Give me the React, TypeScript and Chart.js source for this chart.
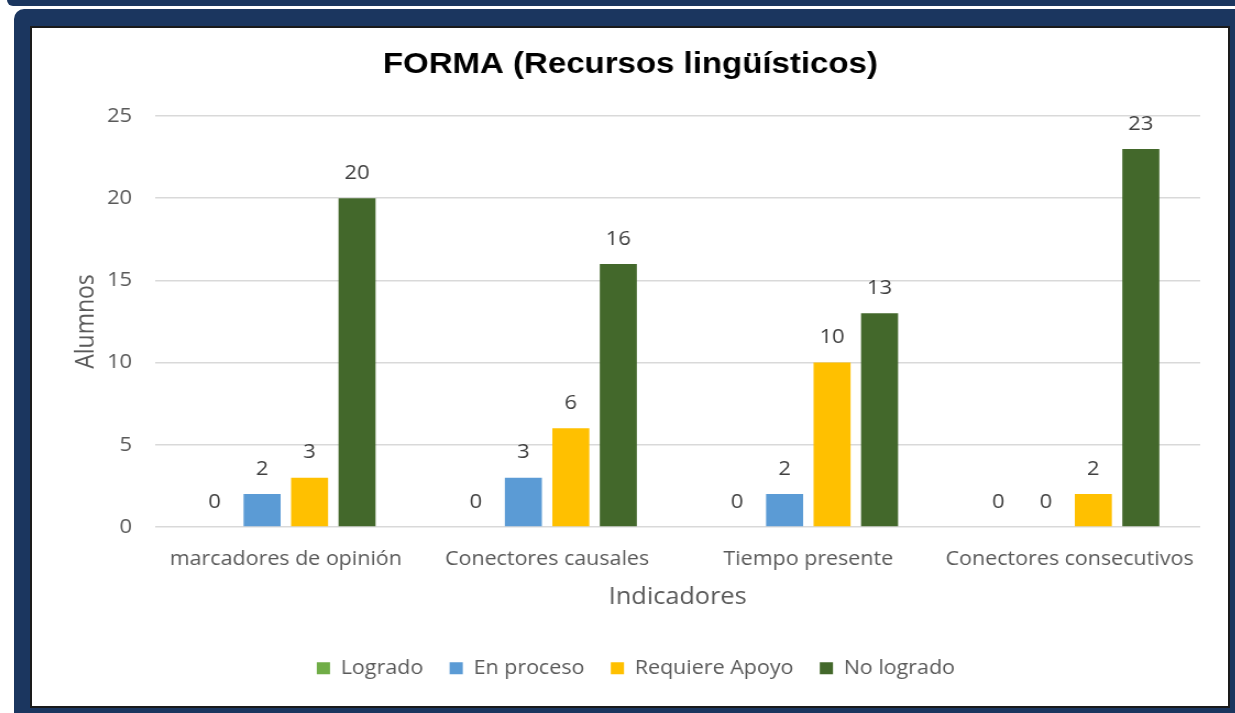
import React, { useEffect, useRef } from 'react';
import { Chart, registerables } from 'chart.js';

Chart.register(...registerables);

const categories = ['marcadores de opinión', 'Conectores causales', 'Tiempo presente', 'Conectores consecutivos'];
const logrado = [0, 0, 0, 0];
const enProceso = [2, 3, 2, 0];
const requiereApoyo = [3, 6, 10, 2];
const noLogrado = [20, 16, 13, 23];
const seriesNames = ['Logrado', 'En proceso', 'Requiere Apoyo', 'No logrado'];
const seriesColors = ['#70AD47', '#5B9BD5', '#FFC000', '#43682B'];
const yMin = 0;
const yMax = 25;
const yStep = 5;

const TITLE = 'FORMA (Recursos lingüísticos)';
const X_TITLE = 'Indicadores';
const Y_TITLE = 'Alumnos';

const NAVY = '#1B365F';
const STRETCH = 1.1;
const CANVAS_W = 1087;
const CANVAS_H = 678;

const dataLabels = {
  id: 'dataLabels',
  afterDatasetsDraw(chart: any) {
    const ctx = chart.ctx;
    ctx.save();
    ctx.font = '20px "Open Sans"';
    ctx.fillStyle = '#404040';
    ctx.textAlign = 'center';
    ctx.textBaseline = 'middle';
    chart.data.datasets.forEach((ds: any, i: number) => {
      const meta = chart.getDatasetMeta(i);
      meta.data.forEach((bar: any, j: number) => {
        ctx.fillText(String(ds.data[j]), bar.x, bar.y - 25);
      });
    });
    ctx.restore();
  },
};

const shiftBoxes = {
  id: 'shiftBoxes',
  afterLayout(chart: any) {
    if (chart.titleBlock) {
      chart.titleBlock.left += 13;
      chart.titleBlock.right += 13;
    }
    if (chart.legend) {
      chart.legend.left += 18;
      chart.legend.right += 18;
    }
  },
};

export default function App() {
  const canvasRef = useRef<HTMLCanvasElement | null>(null);

  useEffect(() => {
    if (!canvasRef.current) return;
    const allSeries = [logrado, enProceso, requiereApoyo, noLogrado];
    const tickFont = { family: '"Open Sans"', size: 20 };
    const chart = new Chart(canvasRef.current, {
      type: 'bar',
      data: {
        labels: categories,
        datasets: allSeries.map((d, i) => ({
          label: seriesNames[i],
          data: d,
          backgroundColor: seriesColors[i],
          borderWidth: 0,
          categoryPercentage: 0.727,
          barPercentage: 0.78,
        })),
      },
      options: {
        responsive: false,
        animation: false,
        devicePixelRatio: 1,
        layout: { padding: { left: 0, right: 25, top: 0, bottom: 18 } },
        plugins: {
          title: {
            display: true,
            text: TITLE,
            color: '#000000',
            font: { family: '"Liberation Sans", Arial, sans-serif', size: 30, weight: 'bold', lineHeight: 1.2 },
            padding: { top: 19, bottom: 33 },
          },
          legend: {
            position: 'bottom',
            labels: {
              boxWidth: 12,
              boxHeight: 12,
              padding: 24,
              color: '#595959',
              font: { family: '"Open Sans"', size: 19.5 },
            },
          },
          tooltip: { enabled: false },
        },
        scales: {
          x: {
            grid: { display: false, drawTicks: false },
            border: { display: false },
            ticks: { color: '#595959', font: { family: '"Open Sans"', size: 19.5 }, padding: 21, maxRotation: 0, autoSkip: false },
            title: {
              display: true,
              text: X_TITLE,
              color: '#595959',
              font: { family: '"Open Sans"', size: 23, lineHeight: 1.2 },
              padding: { top: 0, bottom: 23.2 },
            },
            afterFit: (s: any) => {
              s.height = 107.5;
            },
          },
          y: {
            min: yMin,
            max: yMax,
            ticks: { stepSize: yStep, color: '#595959', font: tickFont, padding: 21 },
            grid: { color: '#D9D9D9', lineWidth: 1.5, drawTicks: false },
            border: { display: false },
            title: {
              display: true,
              text: Y_TITLE,
              color: '#595959',
              font: { family: '"Open Sans"', size: 23, lineHeight: 1.2 },
              padding: { top: 35.5, bottom: 0 },
            },
            afterFit: (s: any) => {
              s.width = 112;
            },
          },
        },
      } as any,
      plugins: [dataLabels, shiftBoxes],
    });
    return () => chart.destroy();
  }, []);

  return (
    <div style={{ position: 'fixed', left: 0, top: 0, width: 1235, height: 713, overflow: 'hidden', background: '#ffffff' }}>
      <div style={{ position: 'absolute', left: 7, top: 0, width: 1240, height: 6, background: NAVY, borderBottomLeftRadius: 8 }} />
      <div style={{ position: 'absolute', left: 14, top: 9, width: 1240, height: 720, background: NAVY, borderTopLeftRadius: 10 }} />
      <div
        style={{
          position: 'absolute',
          left: 30,
          top: 26,
          width: 1200,
          height: 682,
          boxSizing: 'border-box',
          border: '2px solid #1a1a1a',
          background: '#ffffff',
          overflow: 'hidden',
        }}
      >
        <canvas
          ref={canvasRef}
          width={CANVAS_W}
          height={CANVAS_H}
          style={{ display: 'block', transform: `scaleX(${STRETCH})`, transformOrigin: '0 0' }}
        />
      </div>
    </div>
  );
}
